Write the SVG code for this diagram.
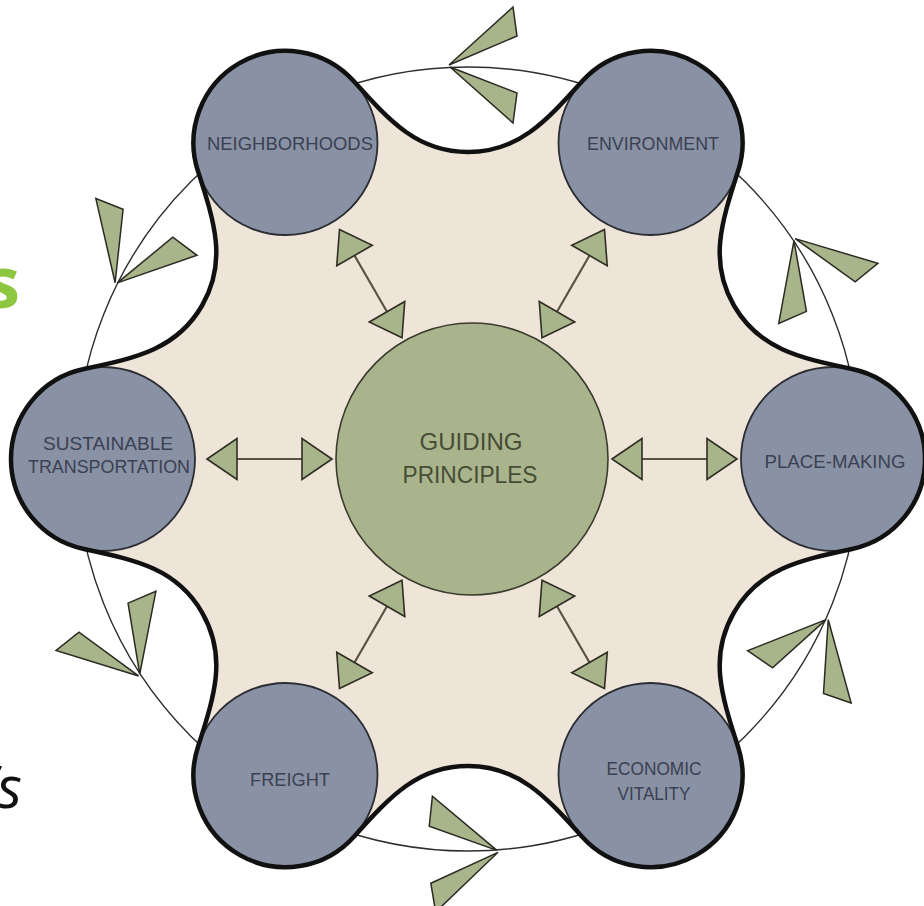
<svg xmlns="http://www.w3.org/2000/svg" width="924" height="906" viewBox="0 0 924 906">
<defs>
<style>
.thin{fill:none;stroke:#2e2e2e;stroke-width:1.4}
.leaf{fill:#a8b58b;stroke:#2a2a22;stroke-width:1.5;stroke-linejoin:miter}
.blobfill{fill:#eee4d7;stroke:none}
.blobline{fill:none;stroke:#111;stroke-width:4.5;stroke-linejoin:round}
.node{fill:#8991a5;stroke:#2b2d33;stroke-width:1.8}
.center{fill:#a9b48c;stroke:#3a3a2e;stroke-width:1.6}
.lbl{font-family:"Liberation Sans",Arial,sans-serif;font-size:18px;fill:#3b4152;text-anchor:middle}
.clbl{font-family:"Liberation Sans",Arial,sans-serif;font-size:24px;fill:#474c36;text-anchor:middle}
.shaft{stroke:#5a5244;stroke-width:2.2;fill:none}
.head{fill:#a8b58b;stroke:#2f2d24;stroke-width:1.6;stroke-linejoin:miter}
</style>
<g id="leafpair">
<polygon class="leaf" points="449,67 513,9 517,38"/>
<polygon class="leaf" points="450,69 517,95 513,125"/>
</g>
<g id="dbl">
<line class="shaft" x1="642" y1="461" x2="707" y2="461"/>
<polygon class="head" points="612,461 642,440.5 642,481.5"/>
<polygon class="head" points="737,461 707,440.5 707,481.5"/>
</g>
</defs>
<rect x="0" y="0" width="924" height="906" fill="#ffffff"/>
<text x="20" y="308" style="font-family:'Open Sans','Liberation Sans',sans-serif;font-size:72px;font-weight:bold;fill:#8dc63f;text-anchor:end">s</text>
<text x="22" y="808" style="font-family:'Open Sans','Liberation Sans',sans-serif;font-size:58px;font-style:italic;fill:#111;text-anchor:end">’s</text>
<g transform="translate(0,-2)">
<g id="cycle">
<circle class="thin" cx="468" cy="461" r="392"/>
<use href="#leafpair"/>
<use href="#leafpair" transform="rotate(58.8 468 461)"/>
<use href="#leafpair" transform="rotate(116.8 468 461)"/>
<use href="#leafpair" transform="rotate(178.4 468 461)"/>
<use href="#leafpair" transform="rotate(239.4 468 461)"/>
<use href="#leafpair" transform="rotate(299.3 468 461)"/>
</g>
<path id="blob" class="blobfill" d="M 353.9 83.3 C 390.7 124.2 418 154 468 154 C 518 154 545.3 124.2 582.1 83.3 A 92 92 0 0 1 738 173.3 C 721 225.6 708.9 264.2 733.9 307.5 C 758.9 350.8 798.3 359.6 852.1 371 A 92 92 0 0 1 852.1 551 C 798.3 562.4 758.9 571.2 733.9 614.5 C 708.9 657.8 721 696.4 738 748.7 A 92 92 0 0 1 582.1 838.7 C 545.3 797.8 518 768 468 768 C 418 768 390.7 797.8 353.9 838.7 A 92 92 0 0 1 198 748.7 C 215 696.4 227.1 657.8 202.1 614.5 C 177.1 571.2 137.7 562.4 83.9 551 A 92 92 0 0 1 83.9 371 C 137.7 359.6 177.1 350.8 202.1 307.5 C 227.1 264.2 215 225.6 198 173.3 A 92 92 0 0 1 353.9 83.3 Z"/>
<g id="guiding-principles">
<circle class="center" cx="472" cy="461" r="136"/>
<text class="clbl" x="471" y="452" textLength="103" lengthAdjust="spacingAndGlyphs">GUIDING</text>
<text class="clbl" x="470" y="485" textLength="135" lengthAdjust="spacingAndGlyphs">PRINCIPLES</text>
</g>
<g id="connectors">
<use href="#dbl"/>
<use href="#dbl" transform="rotate(-60 472 461)"/>
<use href="#dbl" transform="rotate(-120 472 461)"/>
<use href="#dbl" transform="rotate(180 472 461)"/>
<use href="#dbl" transform="rotate(120 472 461)"/>
<use href="#dbl" transform="rotate(60 472 461)"/>
</g>
<g id="neighborhoods">
<circle class="node" cx="285.5" cy="145" r="92"/>
<text class="lbl" x="290" y="152" textLength="166" lengthAdjust="spacingAndGlyphs">NEIGHBORHOODS</text>
</g>
<g id="environment">
<circle class="node" cx="650.5" cy="145" r="92"/>
<text class="lbl" x="653" y="152" textLength="132" lengthAdjust="spacingAndGlyphs">ENVIRONMENT</text>
</g>
<g id="place-making">
<circle class="node" cx="833" cy="461" r="92"/>
<text class="lbl" x="835" y="470" textLength="141" lengthAdjust="spacingAndGlyphs">PLACE-MAKING</text>
</g>
<g id="economic-vitality">
<circle class="node" cx="650.5" cy="777" r="92"/>
<text class="lbl" x="654" y="777" textLength="95" lengthAdjust="spacingAndGlyphs">ECONOMIC</text>
<text class="lbl" x="654" y="802" textLength="73" lengthAdjust="spacingAndGlyphs">VITALITY</text>
</g>
<g id="freight">
<circle class="node" cx="285.5" cy="777" r="92"/>
<text class="lbl" x="290" y="788" textLength="80" lengthAdjust="spacingAndGlyphs">FREIGHT</text>
</g>
<g id="sustainable-transportation">
<circle class="node" cx="103" cy="461" r="92"/>
<text class="lbl" x="108" y="452" textLength="130" lengthAdjust="spacingAndGlyphs">SUSTAINABLE</text>
<text class="lbl" x="109" y="475" textLength="162" lengthAdjust="spacingAndGlyphs">TRANSPORTATION</text>
</g>
<path class="blobline" d="M 353.9 83.3 C 390.7 124.2 418 154 468 154 C 518 154 545.3 124.2 582.1 83.3 A 92 92 0 0 1 738 173.3 C 721 225.6 708.9 264.2 733.9 307.5 C 758.9 350.8 798.3 359.6 852.1 371 A 92 92 0 0 1 852.1 551 C 798.3 562.4 758.9 571.2 733.9 614.5 C 708.9 657.8 721 696.4 738 748.7 A 92 92 0 0 1 582.1 838.7 C 545.3 797.8 518 768 468 768 C 418 768 390.7 797.8 353.9 838.7 A 92 92 0 0 1 198 748.7 C 215 696.4 227.1 657.8 202.1 614.5 C 177.1 571.2 137.7 562.4 83.9 551 A 92 92 0 0 1 83.9 371 C 137.7 359.6 177.1 350.8 202.1 307.5 C 227.1 264.2 215 225.6 198 173.3 A 92 92 0 0 1 353.9 83.3 Z"/>
</g>
</svg>
